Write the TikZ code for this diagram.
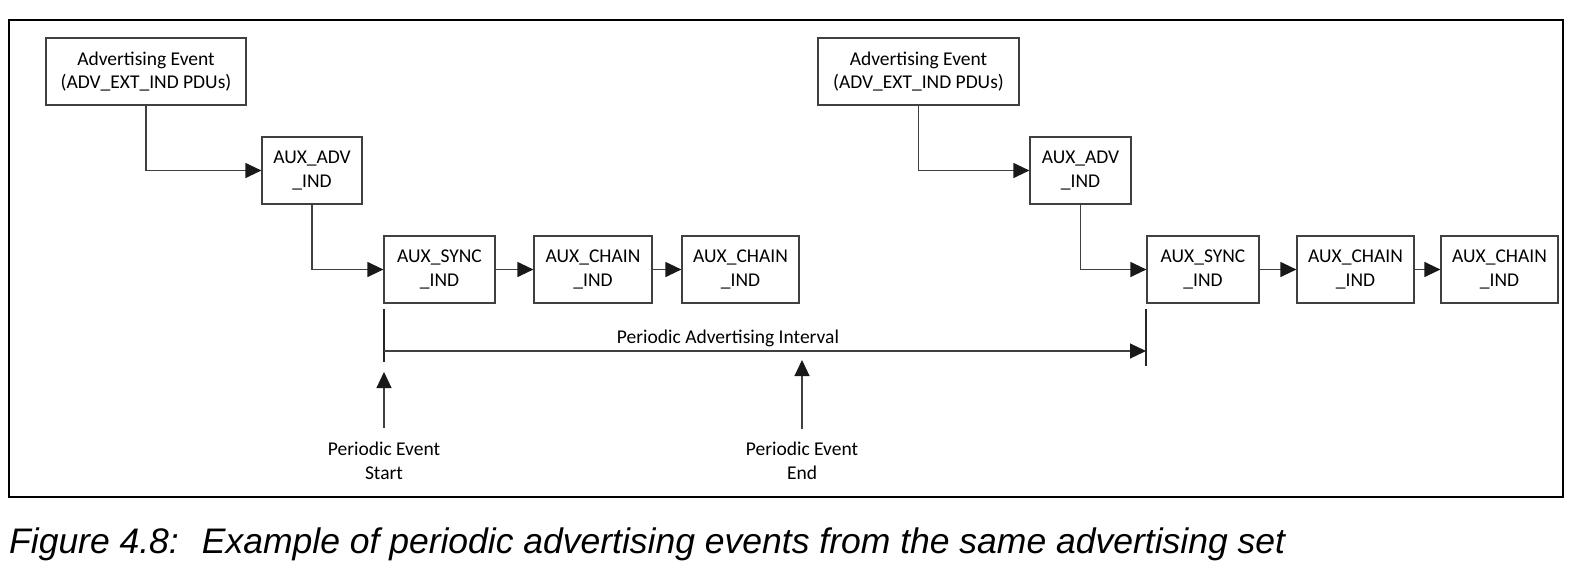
\documentclass[tikz,border=0pt]{standalone}
\usepackage{fontspec}
\newfontfamily\carl{Carlito}
\newfontfamily\capfont{Liberation Sans}
\usetikzlibrary{arrows.meta}
\begin{document}
\begin{tikzpicture}[x=1pt,y=-1pt,
  pdubox/.style={draw=black!75, line width=1.2pt, inner sep=0pt, align=center,
     minimum height=67pt, font=\carl\fontsize{19.5}{23.5}\selectfont},
  conn/.style={draw=black!75, line width=1.2pt, -{Triangle[length=16pt,width=15pt,color=black!90]}},
  tickline/.style={draw=black!85, line width=1.2pt},
  lbl/.style={inner sep=0pt, align=center, font=\carl\fontsize{19.5}{23.5}\selectfont}
]
\useasboundingbox (0,0) rectangle (1580,571);
% frame
\node[draw=black, line width=2.5pt, minimum width=1554pt, minimum height=477pt, inner sep=0pt] (frame) at (786,258.5) {};

% first event
\node[pdubox, minimum width=200pt] (adv1) at (146,71.5) {Advertising Event\\(ADV\_EXT\_IND PDUs)};
\node[pdubox, minimum width=100pt] (aux1) at (312,170.5) {AUX\_ADV\\\_IND};
\node[pdubox, minimum width=111pt] (sync1) at (439.5,269.5) {AUX\_SYNC\\\_IND};
\node[pdubox, minimum width=118pt] (chain1) at (593,269.5) {AUX\_CHAIN\\\_IND};
\node[pdubox, minimum width=117pt] (chain2) at (740.5,269.5) {AUX\_CHAIN\\\_IND};

% second event
\node[pdubox, minimum width=201pt] (adv2) at (918.5,71.5) {Advertising Event\\(ADV\_EXT\_IND PDUs)};
\node[pdubox, minimum width=101pt] (aux2) at (1080.5,170.5) {AUX\_ADV\\\_IND};
\node[pdubox, minimum width=112pt] (sync2) at (1203,269.5) {AUX\_SYNC\\\_IND};
\node[pdubox, minimum width=117pt] (chain3) at (1355.5,269.5) {AUX\_CHAIN\\\_IND};
\node[pdubox, minimum width=117pt] (chain4) at (1499.5,269.5) {AUX\_CHAIN\\\_IND};

% connectors
\draw[conn] (adv1.south) |- (aux1.west);
\draw[conn] (aux1.south) |- (sync1.west);
\draw[conn] (sync1.east) -- (chain1.west);
\draw[conn] (chain1.east) -- (chain2.west);
\draw[conn] (adv2.south) |- (aux2.west);
\draw[conn] (aux2.south) |- (sync2.west);
\draw[conn] (sync2.east) -- (chain3.west);
\draw[conn] (chain3.east) -- (chain4.west);

% interval
\coordinate (t1top) at (384,309);
\coordinate (t1bot) at (384,362);
\coordinate (t2top) at (1146,309);
\coordinate (t2bot) at (1146,366);
\coordinate (ia) at (384,351);
\coordinate (ib) at (1146,351);
\draw[tickline] (t1top) -- (t1bot);
\draw[tickline] (t2top) -- (t2bot);
\draw[conn] (ia) -- (ib);
\node[lbl, anchor=base] (intlbl) at (728,343) {Periodic Advertising Interval};

% periodic event markers
\node[lbl] (pstart) at (384,461) {Periodic Event\\Start};
\node[lbl] (pend) at (802,461) {Periodic Event\\End};
\coordinate (sa) at (384,372);
\coordinate (ea) at (802,360);
\coordinate (sb) at (384,428);
\coordinate (eb) at (802,429);
\draw[conn] (sb) -- (sa);
\draw[conn] (eb) -- (ea);

% caption
\node[anchor=base west, inner sep=0pt, font=\capfont\itshape\fontsize{35.5}{40}\selectfont] (caption) at (9,553) {Figure 4.8:~ Example of periodic advertising events from the same advertising set};
\end{tikzpicture}
\end{document}
